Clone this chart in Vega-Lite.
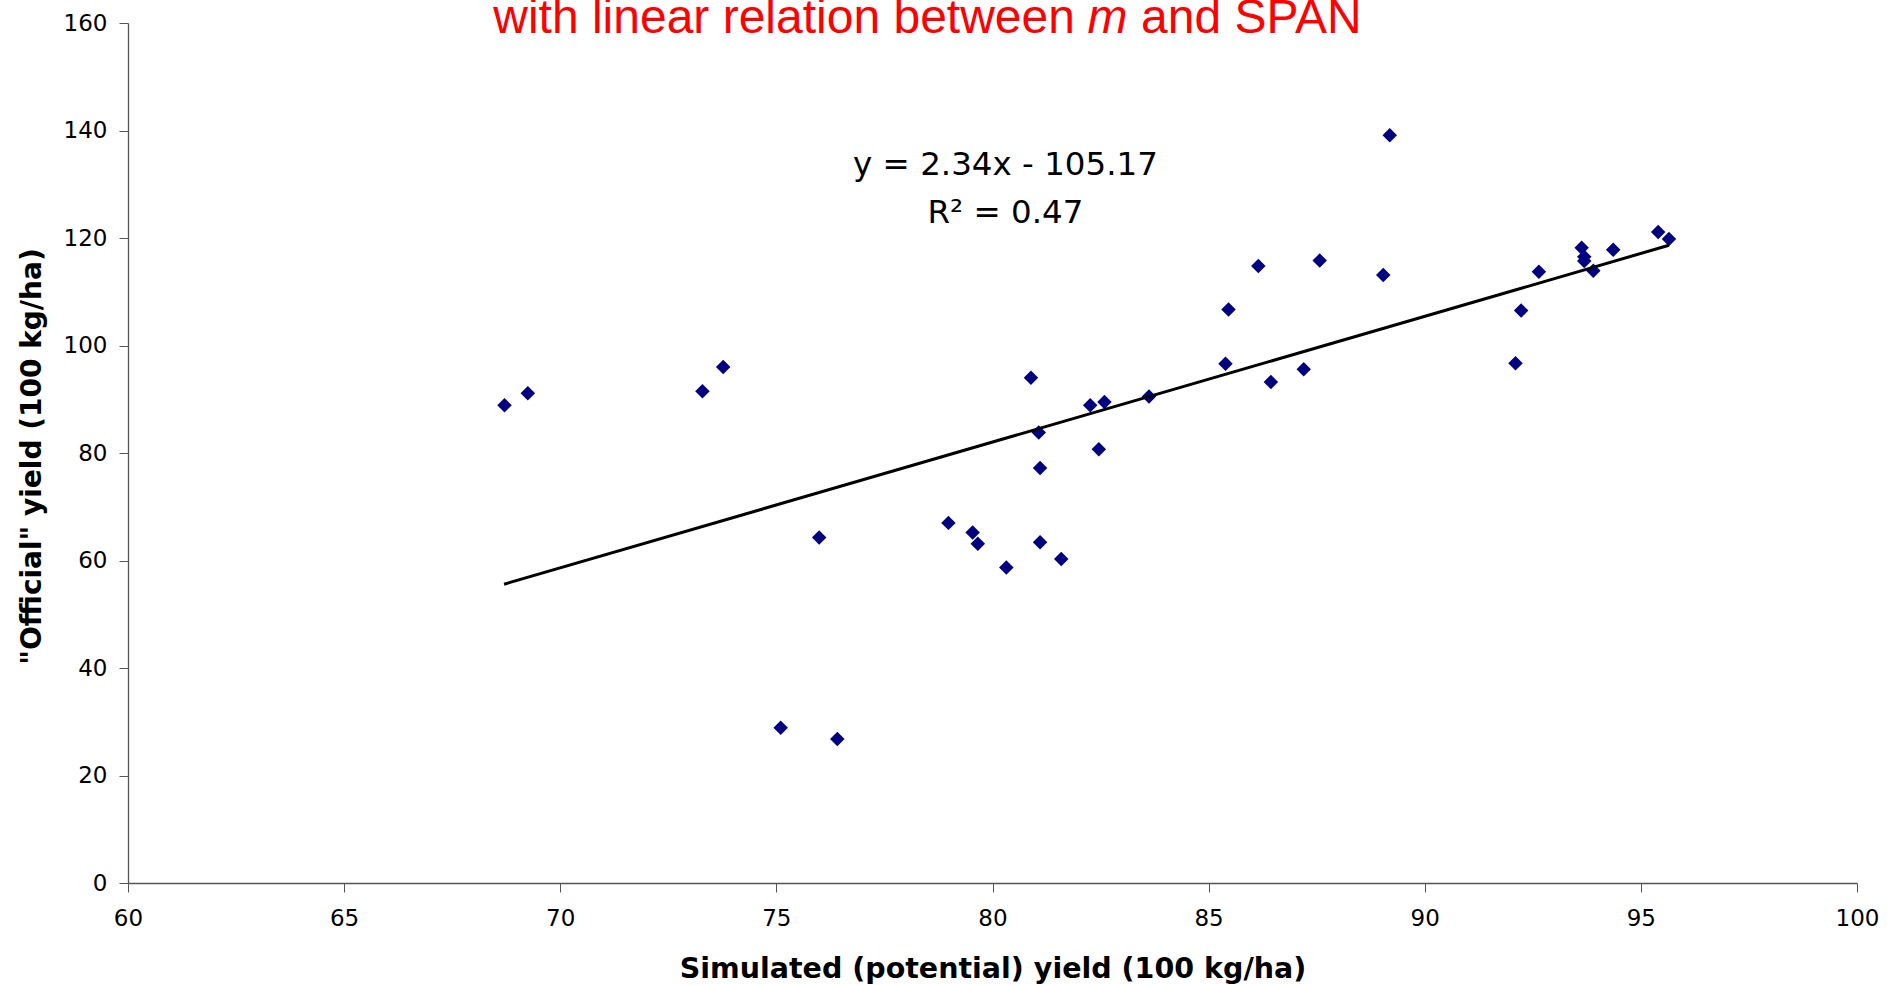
{
  "$schema": "https://vega.github.io/schema/vega-lite/v6.json",
  "width": 1729,
  "height": 860,
  "autosize": {"type": "none"},
  "padding": {"left": 128, "top": 23, "right": 42, "bottom": 102},
  "background": "white",
  "config": {"view": {"stroke": null}, "font": "DejaVu Sans"},
  "datasets": {
    "points": [
      {"sim": 68.71, "off": 88.9}, {"sim": 69.25, "off": 91.1}, {"sim": 73.29, "off": 91.5},
      {"sim": 73.77, "off": 96.0}, {"sim": 75.99, "off": 64.3}, {"sim": 75.10, "off": 28.9},
      {"sim": 76.41, "off": 26.8}, {"sim": 78.98, "off": 67.0}, {"sim": 79.54, "off": 65.2},
      {"sim": 79.66, "off": 63.1}, {"sim": 80.32, "off": 58.7}, {"sim": 80.89, "off": 94.0},
      {"sim": 81.07, "off": 83.8}, {"sim": 81.10, "off": 77.2}, {"sim": 81.10, "off": 63.4},
      {"sim": 81.59, "off": 60.3}, {"sim": 82.26, "off": 88.9}, {"sim": 82.46, "off": 80.7},
      {"sim": 82.59, "off": 89.5}, {"sim": 83.62, "off": 90.5}, {"sim": 85.39, "off": 96.6},
      {"sim": 85.46, "off": 106.7}, {"sim": 86.15, "off": 114.8}, {"sim": 86.44, "off": 93.2},
      {"sim": 87.20, "off": 95.6}, {"sim": 87.57, "off": 115.8}, {"sim": 89.04, "off": 113.1},
      {"sim": 89.19, "off": 139.1}, {"sim": 92.10, "off": 96.7}, {"sim": 92.23, "off": 106.5},
      {"sim": 92.64, "off": 113.7}, {"sim": 93.63, "off": 118.2}, {"sim": 93.69, "off": 116.5},
      {"sim": 93.69, "off": 115.7}, {"sim": 93.90, "off": 113.9}, {"sim": 94.36, "off": 117.8},
      {"sim": 95.40, "off": 121.1}, {"sim": 95.65, "off": 119.8}
    ],
    "trend": [
      {"sim": 68.70, "off": 55.59},
      {"sim": 95.65, "off": 118.65}
    ],
    "equation": [
      {"sim": 80.30, "off": 131.72, "label": "y = 2.34x - 105.17"},
      {"sim": 80.30, "off": 122.73, "label": "R² = 0.47"}
    ],
    "title1": [{"sim": 68.45, "off": 158.08, "label": "with linear relation between"}],
    "title2": [{"sim": 82.20, "off": 158.08, "label": "m"}],
    "title3": [{"sim": 88.54, "off": 158.08, "label": "and SPAN"}]
  },
  "layer": [
    {
      "data": {"name": "points"},
      "mark": {"type": "point", "shape": "diamond", "filled": true, "size": 210, "color": "#000080", "opacity": 1},
      "encoding": {
        "x": {
          "field": "sim", "type": "quantitative",
          "scale": {"domain": [60, 100], "nice": false, "zero": false},
          "axis": {
            "title": "Simulated (potential) yield (100 kg/ha)",
            "titleFont": "DejaVu Sans", "titleFontWeight": "bold", "titleFontSize": 28.5, "titleColor": "#000",
            "titleY": 94, "titleBaseline": "alphabetic",
            "values": [60, 65, 70, 75, 80, 85, 90, 95, 100],
            "labelFont": "DejaVu Sans", "labelFontSize": 23, "labelColor": "#000", "labelPadding": 15,
            "labelFlush": false, "tickSize": 9, "tickColor": "#555", "domainColor": "#555", "domainWidth": 1.3,
            "grid": false
          }
        },
        "y": {
          "field": "off", "type": "quantitative",
          "scale": {"domain": [0, 160], "nice": false, "zero": false},
          "axis": {
            "title": "\"Official\" yield (100 kg/ha)",
            "titleFont": "DejaVu Sans", "titleFontWeight": "bold", "titleFontSize": 28, "titleColor": "#000",
            "titleX": -88, "titleY": 433, "titleBaseline": "alphabetic", "titleAngle": 270,
            "values": [0, 20, 40, 60, 80, 100, 120, 140, 160],
            "labelFont": "DejaVu Sans", "labelFontSize": 23, "labelColor": "#000", "labelPadding": 12,
            "labelFlush": false, "tickSize": 9, "tickColor": "#555", "domainColor": "#555", "domainWidth": 1.3,
            "grid": false
          }
        }
      }
    },
    {
      "data": {"name": "trend"},
      "mark": {"type": "line", "color": "#000", "strokeWidth": 3},
      "encoding": {
        "x": {"field": "sim", "type": "quantitative"},
        "y": {"field": "off", "type": "quantitative"}
      }
    },
    {
      "data": {"name": "equation"},
      "mark": {"type": "text", "font": "DejaVu Sans", "fontSize": 32.5, "color": "#000", "align": "center", "baseline": "alphabetic"},
      "encoding": {
        "x": {"field": "sim", "type": "quantitative"},
        "y": {"field": "off", "type": "quantitative"},
        "text": {"field": "label"}
      }
    },
    {
      "data": {"name": "title1"},
      "mark": {"type": "text", "font": "Liberation Sans", "fontSize": 48, "color": "#FF0000", "align": "left", "baseline": "alphabetic"},
      "encoding": {
        "x": {"field": "sim", "type": "quantitative"},
        "y": {"field": "off", "type": "quantitative"},
        "text": {"field": "label"}
      }
    },
    {
      "data": {"name": "title2"},
      "mark": {"type": "text", "font": "Liberation Sans", "fontSize": 48, "fontStyle": "italic", "color": "#FF0000", "align": "left", "baseline": "alphabetic"},
      "encoding": {
        "x": {"field": "sim", "type": "quantitative"},
        "y": {"field": "off", "type": "quantitative"},
        "text": {"field": "label"}
      }
    },
    {
      "data": {"name": "title3"},
      "mark": {"type": "text", "font": "Liberation Sans", "fontSize": 48, "color": "#FF0000", "align": "right", "baseline": "alphabetic"},
      "encoding": {
        "x": {"field": "sim", "type": "quantitative"},
        "y": {"field": "off", "type": "quantitative"},
        "text": {"field": "label"}
      }
    }
  ]
}
